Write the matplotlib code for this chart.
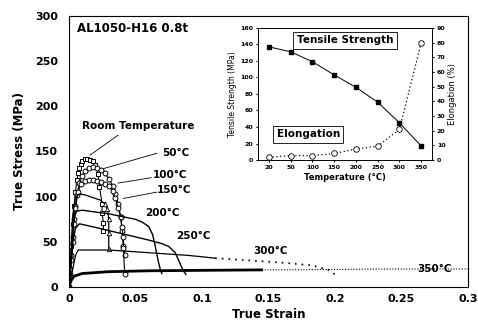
import matplotlib
matplotlib.use("Agg")
import matplotlib.pyplot as plt
import numpy as np

plt.rcParams['font.family'] = ['DejaVu Sans']
plt.rcParams['font.weight'] = 'bold'

# stress-strain curves (strain, MPa)
rt_strain = [0, 0.001, 0.002, 0.003, 0.004, 0.005, 0.006, 0.007, 0.008, 0.009, 0.010, 0.012,
             0.014, 0.016, 0.018, 0.020, 0.022, 0.023, 0.025, 0.025, 0.026, 0.026]
rt_stress = [0, 20, 45, 70, 90, 105, 118, 126, 132, 136, 139, 142,
             142, 141, 139, 135, 125, 111, 92, 82, 71, 62]

t50_strain = [0, 0.001, 0.002, 0.003, 0.004, 0.005, 0.006, 0.008, 0.010, 0.012, 0.015, 0.018,
              0.021, 0.024, 0.027, 0.030, 0.033, 0.035, 0.037, 0.039, 0.040, 0.041, 0.042]
t50_stress = [0, 15, 35, 55, 75, 90, 102, 115, 123, 128, 132, 133,
              132, 130, 126, 120, 112, 103, 92, 78, 62, 45, 35]

t100_strain = [0, 0.001, 0.002, 0.003, 0.004, 0.005, 0.007, 0.009, 0.012, 0.015, 0.018, 0.021,
               0.024, 0.027, 0.030, 0.033, 0.035, 0.037, 0.039, 0.040, 0.041, 0.041, 0.042]
t100_stress = [0, 12, 30, 50, 70, 88, 105, 114, 117, 118, 118, 117,
               116, 114, 112, 106, 98, 88, 77, 66, 55, 43, 14]

t150_strain = [0, 0.001, 0.002, 0.003, 0.005, 0.008, 0.012, 0.016, 0.020, 0.024, 0.027, 0.029,
               0.030, 0.030, 0.030]
t150_stress = [0, 20, 50, 80, 100, 103, 102, 100, 98, 96, 92, 86, 75, 60, 42]

t200_strain = [0, 0.001, 0.002, 0.003, 0.004, 0.006, 0.010, 0.020, 0.030, 0.040, 0.050, 0.055,
               0.060, 0.063, 0.065, 0.067, 0.069, 0.070]
t200_stress = [0, 15, 40, 65, 78, 84, 85, 83, 81, 78, 75, 72, 67, 58, 45, 30, 18, 15]

t250_strain = [0, 0.002, 0.003, 0.005, 0.008, 0.020, 0.040, 0.060, 0.070, 0.075, 0.080, 0.083,
               0.086, 0.088]
t250_stress = [0, 30, 50, 65, 70, 66, 59, 52, 48, 45, 38, 28, 18, 14]

t300_strain = [0, 0.003, 0.005, 0.007, 0.010, 0.030, 0.060, 0.090, 0.110]
t300_stress = [0, 20, 35, 41, 41, 41, 38, 35, 32]
t300_tail_strain = [0.110, 0.140, 0.160, 0.183, 0.195, 0.200, 0.202]
t300_tail_stress = [32, 29, 27, 24, 19, 14, 11]

t350_strain = [0, 0.002, 0.004, 0.010, 0.030, 0.060, 0.100, 0.145]
t350_stress = [0, 8, 12, 15, 17, 18, 18.5, 19]
t350_tail_strain = [0.145, 0.175, 0.200, 0.225, 0.250, 0.275, 0.300]
t350_tail_stress = [19, 19.2, 19.5, 19.8, 20, 20, 20]

# inset data
temps = ['20', '50', '100', '150', '200', '250', '300', '350']
tensile = [137, 131, 119, 103, 88, 70, 45, 17]
elong = [2, 3, 3, 4.5, 7.5, 9.5, 21, 80]

fig = plt.figure(figsize=(4.78, 3.24), dpi=100)
ax = fig.add_axes([0.144, 0.114, 0.835, 0.837])

k = 'black'
ax.plot(rt_strain, rt_stress, color=k, lw=0.8, marker='s', ms=3.5, mfc='white', mew=0.7)
ax.plot(t50_strain, t50_stress, color=k, lw=0.8, marker='o', ms=3.5, mfc='white', mew=0.7)
ax.plot(t100_strain, t100_stress, color=k, lw=0.8, marker='o', ms=3.5, mfc='white', mew=0.7)
ax.plot(t150_strain, t150_stress, color=k, lw=0.9)
ax.plot(t150_strain[-5:], t150_stress[-5:], color=k, lw=0, marker='^', ms=3.2, mfc='white', mew=0.6)
ax.plot(t200_strain, t200_stress, color=k, lw=1.0)
ax.plot(t250_strain, t250_stress, color=k, lw=1.0)
ax.plot(t300_strain, t300_stress, color=k, lw=0.9)
ax.plot(t300_tail_strain, t300_tail_stress, color=k, lw=1.2, ls=(0, (1, 3)))
ax.plot(t350_strain, t350_stress, color=k, lw=2.0)
ax.plot(t350_tail_strain, t350_tail_stress, color=k, lw=0.8, ls=(0, (1, 1.5)))

ax.set_xlim(0, 0.3)
ax.set_ylim(0, 300)
ax.set_xticks([0, 0.05, 0.1, 0.15, 0.2, 0.25, 0.3])
ax.set_xticklabels(['0', '0.05', '0.1', '0.15', '0.2', '0.25', '0.3'])
ax.set_yticks([0, 50, 100, 150, 200, 250, 300])
ax.tick_params(axis='y', length=0, labelsize=8, pad=8)
ax.tick_params(axis='x', length=0, labelsize=8, pad=5)
for lab in ax.get_xticklabels() + ax.get_yticklabels():
    lab.set_fontweight('bold')
ax.set_xlabel('True Strain', fontsize=8.5, fontweight='bold', labelpad=3)
ax.set_ylabel('True Stress (MPa)', fontsize=8.5, fontweight='bold', labelpad=6)
for s in ax.spines.values():
    s.set_linewidth(0.8)

ax.text(0.006, 286, 'AL1050-H16 0.8t', fontsize=8.5, fontweight='bold', va='center', ha='left')

labs = [('Room Temperature', 0.010, 178, (0.016, 146), (0.037, 168)),
        ('50°C', 0.070, 148, (0.026, 131), (0.066, 148)),
        ('100°C', 0.063, 124, (0.037, 115), (0.062, 121)),
        ('150°C', 0.066, 107, (0.041, 98), (0.066, 105)),
        ('200°C', 0.057, 82, None, None),
        ('250°C', 0.081, 56, None, None),
        ('300°C', 0.139, 40, None, None),
        ('350°C', 0.262, 20, None, None)]
for txt, x, y, p0, p1 in labs:
    ax.text(x, y, txt, fontsize=7.5, fontweight='bold', va='center', ha='left')
    if p0 is not None:
        ax.plot([p0[0], p1[0]], [p0[1], p1[1]], color=k, lw=0.6)

# inset
ins = fig.add_axes([0.540, 0.506, 0.364, 0.408])
xs = np.arange(len(temps))
ins.plot(xs, tensile, color=k, lw=0.7, marker='s', ms=3, mfc=k)
ins.set_xlim(-0.5, 7.5)
ins.set_ylim(0, 160)
ins.set_yticks(range(0, 161, 20))
ins.set_xticks(xs)
ins.set_xticklabels(temps)
ins.tick_params(length=1.5, labelsize=4.5, pad=2)
ins.set_ylabel('Tensile Strength (MPa)', fontsize=5.5, fontweight='normal', labelpad=2)
ins.set_xlabel('Temperature (°C)', fontsize=6, fontweight='bold', labelpad=2)
ins2 = ins.twinx()
ins2.plot(xs, elong, color=k, lw=0.9, ls=(0, (1, 2)), marker='o', ms=4, mfc='white', mew=0.6)
ins2.set_ylim(0, 90)
ins2.set_yticks(range(0, 91, 10))
ins2.tick_params(length=1.5, labelsize=4.5, pad=2)
ins2.set_ylabel('Elongation (%)', fontsize=6, fontweight='normal', labelpad=2)
for a in (ins, ins2):
    for lab in a.get_xticklabels() + a.get_yticklabels():
        lab.set_fontweight('bold')
    for s in a.spines.values():
        s.set_linewidth(0.6)

ins.text(3.5, 145, 'Tensile Strength', fontsize=7.5, fontweight='bold', ha='center', va='center',
         bbox=dict(boxstyle='square,pad=0.35', fc='white', ec=k, lw=0.6))
ins.text(1.8, 31, 'Elongation', fontsize=7.5, fontweight='bold', ha='center', va='center',
         bbox=dict(boxstyle='square,pad=0.35', fc='white', ec=k, lw=0.6))

fig.savefig('out.png', dpi=100)
